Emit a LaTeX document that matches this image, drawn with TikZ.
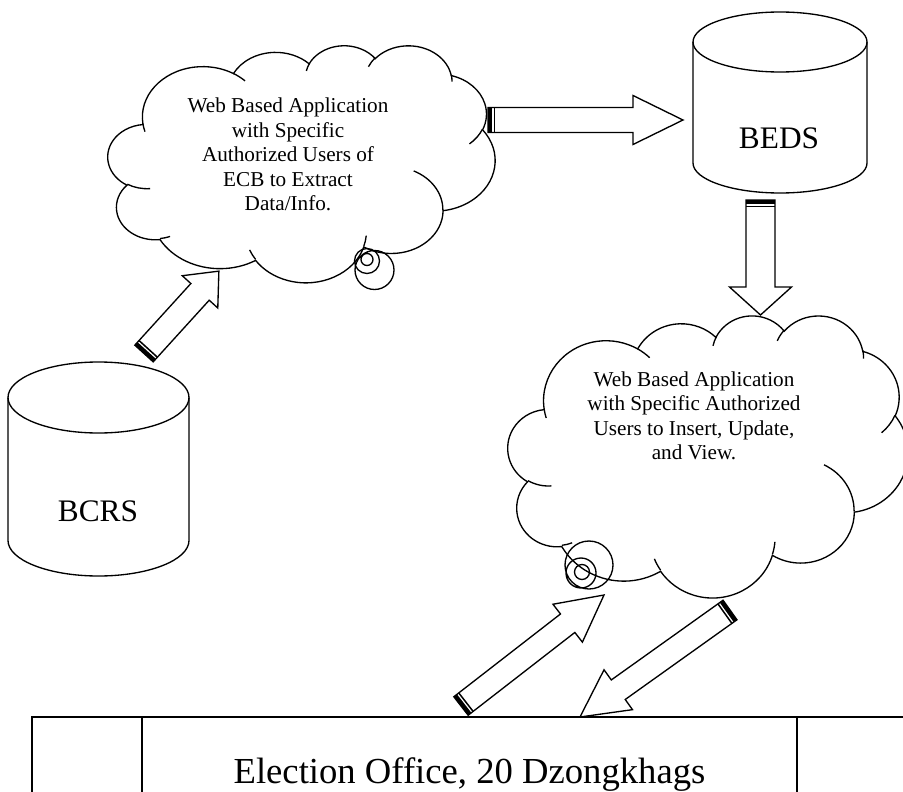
\documentclass[tikz,border=0pt]{standalone}
\usepackage{fontspec}
\setmainfont{Liberation Serif}
\usetikzlibrary{calc}

% one puff of the cloud: radii, start angle, sweep (angles measured on the ellipse)
\newcommand{\carc}[4]{arc[x radius=#1, y radius=#2,
  start angle={atan2((#1)*sin(#3),(#2)*cos(#3))},
  delta angle={mod(atan2((#1)*sin(#3+#4),(#2)*cos(#3+#4))-atan2((#1)*sin(#3),(#2)*cos(#3))+720,360)}]}

% striped block arrow: tail, tip, shaft half width, head half width, head length
\newcommand{\blockarrow}[5]{%
  \pgfpointdiff{\pgfpointanchor{#1}{center}}{\pgfpointanchor{#2}{center}}%
  \pgfgetlastxy{\arrdx}{\arrdy}%
  \pgfmathsetmacro\arrang{atan2(\arrdy,\arrdx)}%
  \pgfmathsetmacro\arrlen{veclen(\arrdx,\arrdy)/0.75}%
  \begin{scope}[shift={(#1)},rotate=\arrang]
    \draw[blockline] (0,-#3) -- ({\arrlen-#5},-#3) -- ({\arrlen-#5},-#4) -- (\arrlen,0)
      -- ({\arrlen-#5},#4) -- ({\arrlen-#5},#3) -- (0,#3) -- cycle;
    \fill (0,-#3) rectangle (4,#3);
    \fill (5.5,-#3) rectangle (7,#3);
  \end{scope}}

\tikzset{
  cloudshape/.pic={
    \draw[cloudline] (39.00,143.70)
      \carc{67.53}{91.90}{-190.4875}{123.7805}
      \carc{53.33}{72.67}{-144.1024}{89.9452}
      \carc{43.65}{59.45}{-145.8079}{99.7230}
      \carc{48.57}{65.95}{-130.9861}{117.2417}
      \carc{53.33}{72.73}{-78.7089}{109.0269}
      \carc{67.75}{92.20}{-46.2673}{130.2690}
      \carc{57.85}{78.67}{0.6250}{114.0333}
      \carc{67.52}{92.15}{22.4516}{115.1726}
      \carc{77.20}{105.43}{66.2426}{75.7110}
      \carc{43.60}{59.18}{-274.9421}{146.7356}
      \carc{43.45}{59.45}{-246.8285}{152.5189}
      -- cycle;
    \draw[cloudline, fill=none]
      (46.93,261.77) \carc{43.45}{59.45}{86.7420}{26.4295}
      (69.28,348.99) \carc{43.60}{59.18}{73.6105}{11.4475}
      (164.78,390.90) \carc{67.52}{92.15}{137.6242}{14.0811}
      (288.27,347.51) \carc{67.52}{92.15}{6.4533}{15.9984}
      (341.29,229.54) \carc{57.85}{78.67}{-70.2924}{70.9174}
      (417.98,153.54) \carc{53.33}{72.73}{30.3180}{27.7515}
      (383.24,54.26) \carc{48.57}{65.95}{-13.7443}{14.8589}
      (290.78,39.52) \carc{48.57}{65.95}{-149.1815}{18.1954}
      (221.41,47.20) \carc{43.65}{59.45}{-163.4943}{17.6864}
      (140.00,51.92) \carc{67.53}{91.90}{-66.7070}{12.3194}
      (41.27,157.89) \carc{67.53}{91.90}{157.6544}{11.8582};
  }
}

\begin{document}
\begin{tikzpicture}[x=0.75pt, y=0.75pt,
  cloudline/.style={line width=1pt, fill=white},
  outline/.style={line width=1pt},
  blockline/.style={line width=1pt, fill=white, line join=miter},
  cloudtext/.style={align=center, font=\fontsize{15.9}{18.4}\selectfont},
  dbtext/.style={font=\fontsize{23.5}{28}\selectfont},
  officetext/.style={anchor=base, font=\fontsize{27.5}{33}\selectfont}]

\useasboundingbox (0,0) rectangle (903,-792);

% cloud for extracting data
\pic[xscale=387/432, yscale=-237/432] at (108,-45) {cloudshape};
\node[cloudtext] (webext) at (288,-154.5) {Web Based Application\\with Specific\\Authorized Users of\\ECB to Extract\\Data/Info.};
\draw[outline] (374.5,-270) circle[radius=19.5] (367,-261) circle[radius=12.5] (367,-259.5) circle[radius=6];

% cloud for insert, update and view
\pic[xscale=400/432, yscale=-282/432] at (508,-315) {cloudshape};
\node[cloudtext] (webins) at (694,-415.7) {Web Based Application\\with Specific Authorized\\Users to Insert, Update,\\and View.};
\draw[outline] (589,-565) circle[radius=24] (581,-573) circle[radius=15] (582,-572) circle[radius=7.5];

% databases
\draw[outline, fill=white] (8,-397.5) -- (8,-540.5) arc[start angle=180, end angle=360, x radius=90.5, y radius=35.5]
  -- (189,-397.5) arc[start angle=0, end angle=180, x radius=90.5, y radius=35.5] -- cycle;
\draw[outline] (8,-397.5) arc[start angle=180, end angle=360, x radius=90.5, y radius=35.5];
\node[dbtext] (bcrs) at (98,-511) {BCRS};

\draw[outline, fill=white] (693,-42) -- (693,-163) arc[start angle=180, end angle=360, x radius=87, y radius=30]
  -- (867,-42) arc[start angle=0, end angle=180, x radius=87, y radius=30] -- cycle;
\draw[outline] (693,-42) arc[start angle=180, end angle=360, x radius=87, y radius=30];
\node[dbtext] (beds) at (779,-138) {BEDS};

% office table
\draw[outline] (910,-717) -- (32,-717) -- (32,-800);
\draw[outline] (142,-717) -- (142,-800) (797,-717) -- (797,-800);
\node[officetext] (office) at (469.5,-783) {Election Office, 20 Dzongkhags};

% arrows
\coordinate (extout) at (488,-120);
\coordinate (bedsin) at (683,-120);
\coordinate (bedsout) at (760.5,-200);
\coordinate (insin) at (760.5,-315);
\coordinate (bcrsout) at (144,-353.5);
\coordinate (extin) at (219,-271);
\coordinate (officeout) at (461,-706);
\coordinate (viewin) at (604,-595);
\coordinate (viewout) at (730,-610);
\coordinate (officein) at (580,-717);

\blockarrow{extout}{bedsin}{12.5}{24.5}{50}
\blockarrow{bedsout}{insin}{14.5}{31}{28}
\blockarrow{bcrsout}{extin}{12.4}{24}{28}
\blockarrow{officeout}{viewin}{11.7}{24}{46}
\blockarrow{viewout}{officein}{12}{24.5}{47}
\end{tikzpicture}
\end{document}
